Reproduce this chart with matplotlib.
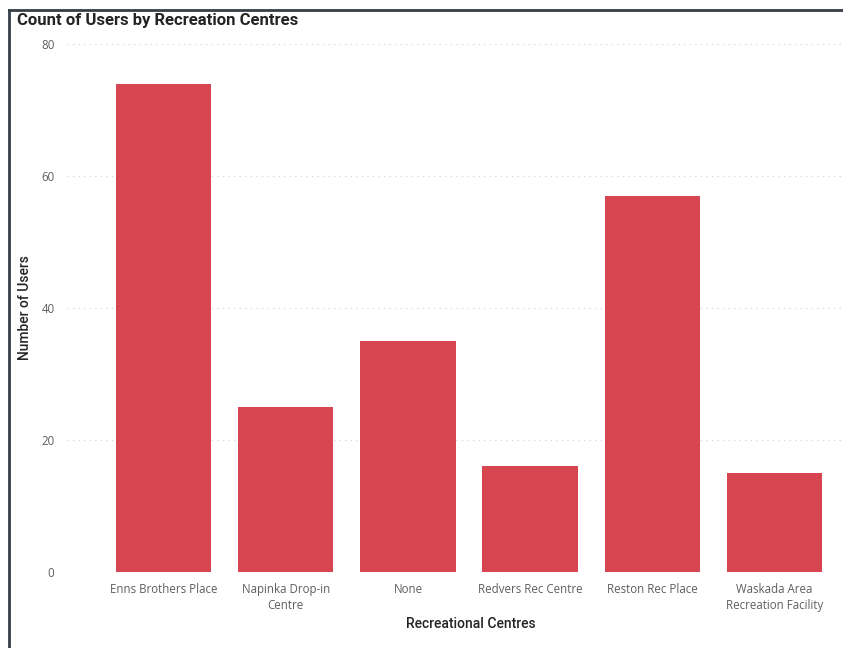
import matplotlib
matplotlib.use("Agg")
import matplotlib.pyplot as plt
from matplotlib.lines import Line2D

# -------------------------------
# Data
# -------------------------------
centres = ["Enns Brothers Place", "Napinka Drop-in\nCentre", "None",
           "Redvers Rec Centre", "Reston Rec Place",
           "Waskada Area\nRecreation Facility"]
users = [74, 25, 35, 16, 57, 15]
y_ticks = [0, 20, 40, 60, 80]

# -------------------------------
# Plot
# -------------------------------
fig = plt.figure(figsize=(8.43, 6.48), dpi=100)
ax = fig.add_axes([67 / 843, 1 - 572 / 648, 1 - 67 / 843, (572 - 44) / 648])

x = range(len(centres))
ax.bar(x, users, width=0.78, color="#D64550", zorder=2)

ax.set_xlim(-0.79, 5.56)
ax.set_ylim(0, 80)
ax.set_yticks(y_ticks)
ax.set_xticks(list(x))
ax.set_xticklabels(centres, fontsize=8.3, color="#605E5C", family="Open Sans",
                   linespacing=1.25)
ax.set_yticklabels([str(v) for v in y_ticks], fontsize=8.3, color="#605E5C",
                   family="Open Sans")
ax.tick_params(axis="both", length=0)
ax.tick_params(axis="x", pad=8)
ax.tick_params(axis="y", pad=9)

ax.grid(True, axis="y", linestyle=(0, (1, 4)), color="#D0D0D0", linewidth=0.8, zorder=0)
for s in ax.spines.values():
    s.set_visible(False)

ax.set_xlabel("Recreational Centres", fontsize=10, color="#252423",
              family="Roboto", fontweight="medium")
ax.xaxis.set_label_coords((471 - 67) / (843 - 67), -(617 - 572) / (572 - 44))
ax.set_ylabel("Number of Users", fontsize=10, color="#252423",
              family="Roboto", fontweight="medium")
ax.yaxis.set_label_coords((32 - 67) / (843 - 67), 0.5)

fig.text(17 / 843, 1 - 21 / 648, "Count of Users by Recreation Centres",
         fontsize=12, fontweight="bold", color="#252423", family="Roboto",
         va="center", ha="left")

# frame lines (top and left)
fig.add_artist(Line2D([9 / 843, 1], [1 - 9.5 / 648, 1 - 9.5 / 648],
                      transform=fig.transFigure, color="#343E48", linewidth=2))
fig.add_artist(Line2D([8.5 / 843, 8.5 / 843], [0, 1 - 9.5 / 648],
                      transform=fig.transFigure, color="#343E48", linewidth=2))

fig.savefig("out.png", dpi=100)
